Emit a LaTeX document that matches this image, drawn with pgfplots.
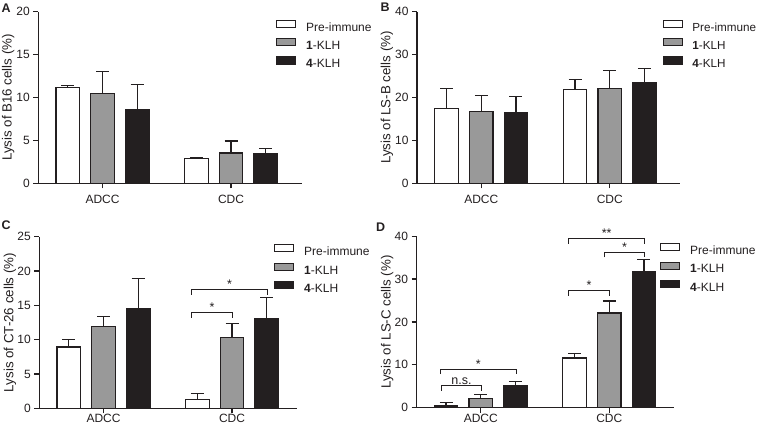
\documentclass[border=0pt]{standalone}
\usepackage{fontspec}
\setmainfont{Liberation Sans}
\usepackage{pgfplots}
\pgfplotsset{compat=1.18}
\definecolor{dk}{HTML}{231F20}
\definecolor{gr}{HTML}{999999}

\pgfplotsset{
  panel/.style={
    scale only axis, x=128.5pt, height=171.5pt, anchor=south west,
    xmin=-0.5, ymin=0, clip=false,
    axis x line*=bottom, axis y line*=left,
    axis line style={line width=1.2pt, color=dk},
    tick style={line width=1.2pt, color=dk},
    tick align=outside, major tick length=5pt,
    xtick={0,1}, xticklabels={ADCC,CDC},
    ticklabel style={font=\fontsize{12}{14}\selectfont, text=dk},
    /pgf/number format/assume math mode=true,
    every axis y label/.style={at={(axis description cs:-0.114,0.5)}, rotate=90, anchor=center, font=\fontsize{13.3}{15}\selectfont, text=dk},
    legend style={anchor=west, draw=none, fill=none, inner sep=0pt, outer sep=0pt,
      column sep=10pt, row sep=4pt, font=\fontsize{12}{14}\selectfont, text=dk,
      nodes={inner sep=0pt, text height=9pt, text depth=3pt}},
    legend cell align=left,
  },
  bars/.style={ybar, bar width=0.183, bar shift=0, draw=dk, line width=1.2pt,
    legend image code/.code={\draw[##1, line width=1.2pt] (0pt,0.8pt) rectangle (19pt,7.8pt);},
    error bars/y dir=plus, error bars/y explicit,
    error bars/error bar style={line width=1.2pt, color=dk},
    error bars/error mark options={line width=1.2pt, color=dk, mark size=6.5pt, rotate=90}},
  s1/.style={bars, fill=white},
  s2/.style={bars, fill=gr},
  s3/.style={bars, fill=dk},
}
% significance bracket: x1, x2, y, xmid, text
\newcommand{\sig}[5]{%
  \draw[line width=1.1pt, color=dk] ([yshift=-5pt]axis cs:#1,#3) -- (axis cs:#1,#3) -- (axis cs:#2,#3) -- ([yshift=-5pt]axis cs:#2,#3);
  \node[anchor=base, inner sep=0pt, yshift=1pt, font=\fontsize{12.5}{14}\selectfont, text=dk] at (axis cs:#4,#3) {#5};%
}

\begin{document}
\begin{tikzpicture}
\path[use as bounding box] (0pt,0pt) rectangle (757pt,425pt);

% ---------- A ----------
\begin{axis}[panel, at={(38.3pt,241.7pt)}, xmax=1.55, ymax=20, ytick={0,5,10,15,20},
  xticklabel style={yshift=-3pt},
  ylabel={Lysis of B16 cells (\%)}, legend style={at={(axis description cs:0.9024,0.805)}}]
\addplot[s1] coordinates {(-0.27,11.2) +- (0,0.24) (0.73,2.92) +- (0,0.11)};
\addplot[s2] coordinates {(0,10.47) +- (0,2.57) (1,3.54) +- (0,1.4)};
\addplot[s3] coordinates {(0.27,8.56) +- (0,2.96) (1.27,3.5) +- (0,0.55)};
\legend{Pre-immune, \textbf{1}-KLH, \textbf{4}-KLH}
\end{axis}

% ---------- B ----------
\begin{axis}[panel, at={(417pt,241.7pt)}, xmax=1.547, ymax=40, ytick={0,10,20,30,40},
  xticklabel style={yshift=-3pt},
  ylabel={Lysis of LS-B cells (\%)}, legend style={column sep=9pt, font=\fontsize{11.7}{14}\selectfont, at={(axis description cs:0.936,0.805)}}]
\addplot[s1] coordinates {(-0.27,17.4) +- (0,4.8) (0.73,21.9) +- (0,2.3)};
\addplot[s2] coordinates {(0,16.7) +- (0,3.7) (1,22.2) +- (0,4.1)};
\addplot[s3] coordinates {(0.27,16.5) +- (0,3.8) (1.27,23.5) +- (0,3.2)};
\legend{Pre-immune, \textbf{1}-KLH, \textbf{4}-KLH}
\end{axis}

% ---------- C ----------
\begin{axis}[panel, at={(39.3pt,16.7pt)}, xmax=1.508, ymax=25, ytick={0,5,10,15,20,25},
  xticklabel style={yshift=2.5pt},
  ylabel={Lysis of CT-26 cells (\%)}, legend style={at={(axis description cs:0.9097,0.807)}}]
\addplot[s1] coordinates {(-0.27,8.95) +- (0,1.1) (0.73,1.3) +- (0,0.9)};
\addplot[s2] coordinates {(0,11.94) +- (0,1.46) (1,10.35) +- (0,2.05)};
\addplot[s3] coordinates {(0.27,14.6) +- (0,4.36) (1.27,13.05) +- (0,3.15)};
\legend{Pre-immune, \textbf{1}-KLH, \textbf{4}-KLH}
\sig{0.685}{1.005}{13.9}{0.845}{*}
\sig{0.685}{1.275}{17.3}{0.98}{*}
\end{axis}

% ---------- D ----------
\begin{axis}[panel, at={(416.5pt,17.3pt)}, xmax=1.504, ymax=40, ytick={0,10,20,30,40},
  xticklabel style={yshift=2.5pt},
  ylabel={Lysis of LS-C cells (\%)}, legend style={at={(axis description cs:0.9456,0.81)}}]
\addplot[s1] coordinates {(-0.27,0.4) +- (0,0.8) (0.73,11.6) +- (0,1.0)};
\addplot[s2] coordinates {(0,2.1) +- (0,0.9) (1,22.1) +- (0,2.8)};
\addplot[s3] coordinates {(0.27,5.1) +- (0,1.1) (1.27,31.8) +- (0,2.8)};
\legend{Pre-immune, \textbf{1}-KLH, \textbf{4}-KLH}
\sig{-0.305}{0.005}{5.1}{-0.15}{n.s.}
\sig{-0.315}{0.275}{9.0}{-0.02}{*}
\sig{0.685}{1.0}{27.3}{0.843}{*}
\sig{0.963}{1.275}{36.2}{1.12}{*}
\sig{0.683}{1.275}{39.4}{0.98}{**}
\end{axis}

\node[anchor=west, inner sep=0pt, font=\bfseries\fontsize{12.5}{14}\selectfont, text=dk] at (1.5pt,416.5pt) {A};
\node[anchor=west, inner sep=0pt, font=\bfseries\fontsize{12.5}{14}\selectfont, text=dk] at (380.5pt,417.5pt) {B};
\node[anchor=west, inner sep=0pt, font=\bfseries\fontsize{12.5}{14}\selectfont, text=dk] at (1.5pt,199.5pt) {C};
\node[anchor=west, inner sep=0pt, font=\bfseries\fontsize{12.5}{14}\selectfont, text=dk] at (376pt,198pt) {D};
\end{tikzpicture}
\end{document}
